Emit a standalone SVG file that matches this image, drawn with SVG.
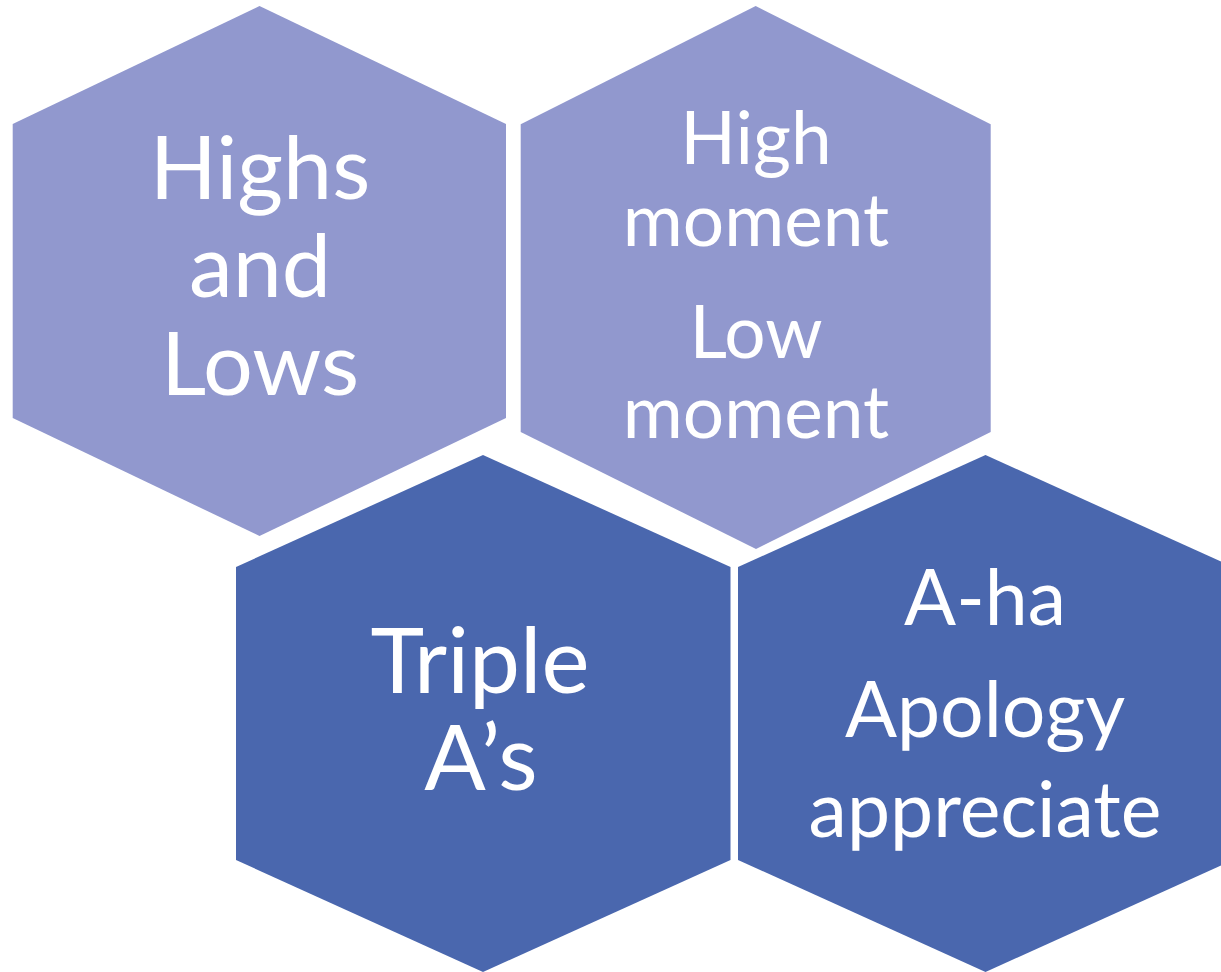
<svg xmlns="http://www.w3.org/2000/svg" width="1221" height="972" viewBox="0 0 1221 972">
<style>
.light{fill:#9198CE}
.dark{fill:#4A67AE}
.t{fill:#FFFFFF;font-family:Lato,"Open Sans","Liberation Sans",sans-serif;text-anchor:middle}
</style>
<rect width="1221" height="972" fill="#FFFFFF"/>
<g id="hex1">
<polygon class="light" points="259.5,6 506,124 506,418 259.5,536 12.7,418 12.7,124"/>
<text class="t" font-size="88" x="260" y="199">Highs</text>
<text class="t" font-size="88" x="260" y="297">and</text>
<text class="t" font-size="88" x="260" y="395">Lows</text>
</g>
<g id="hex2">
<polygon class="light" points="755.7,6 990.7,124.3 990.7,432 756,549 520.7,432 520.7,124.3"/>
<text class="t" font-size="73" x="756" y="164">High</text>
<text class="t" font-size="73" x="756" y="246">moment</text>
<text class="t" font-size="73" x="756" y="358">Low</text>
<text class="t" font-size="73" x="756" y="438">moment</text>
</g>
<g id="hex3">
<polygon class="dark" points="483,455 730.5,567 730.5,860 483,972 236,860 236,567"/>
<text class="t" font-size="91" x="480" y="693">Triple</text>
<text class="t" font-size="91" x="481" y="790">A’s</text>
</g>
<g id="hex4">
<polygon class="dark" points="985.5,455 1233,567 1233,860 985.5,972 738,860 738,567"/>
<text class="t" font-size="77" x="985" y="625">A-ha</text>
<text class="t" font-size="77" x="985" y="737">Apology</text>
<text class="t" font-size="77" x="985" y="837">appreciate</text>
</g>
<g id="connectors"/>
</svg>
